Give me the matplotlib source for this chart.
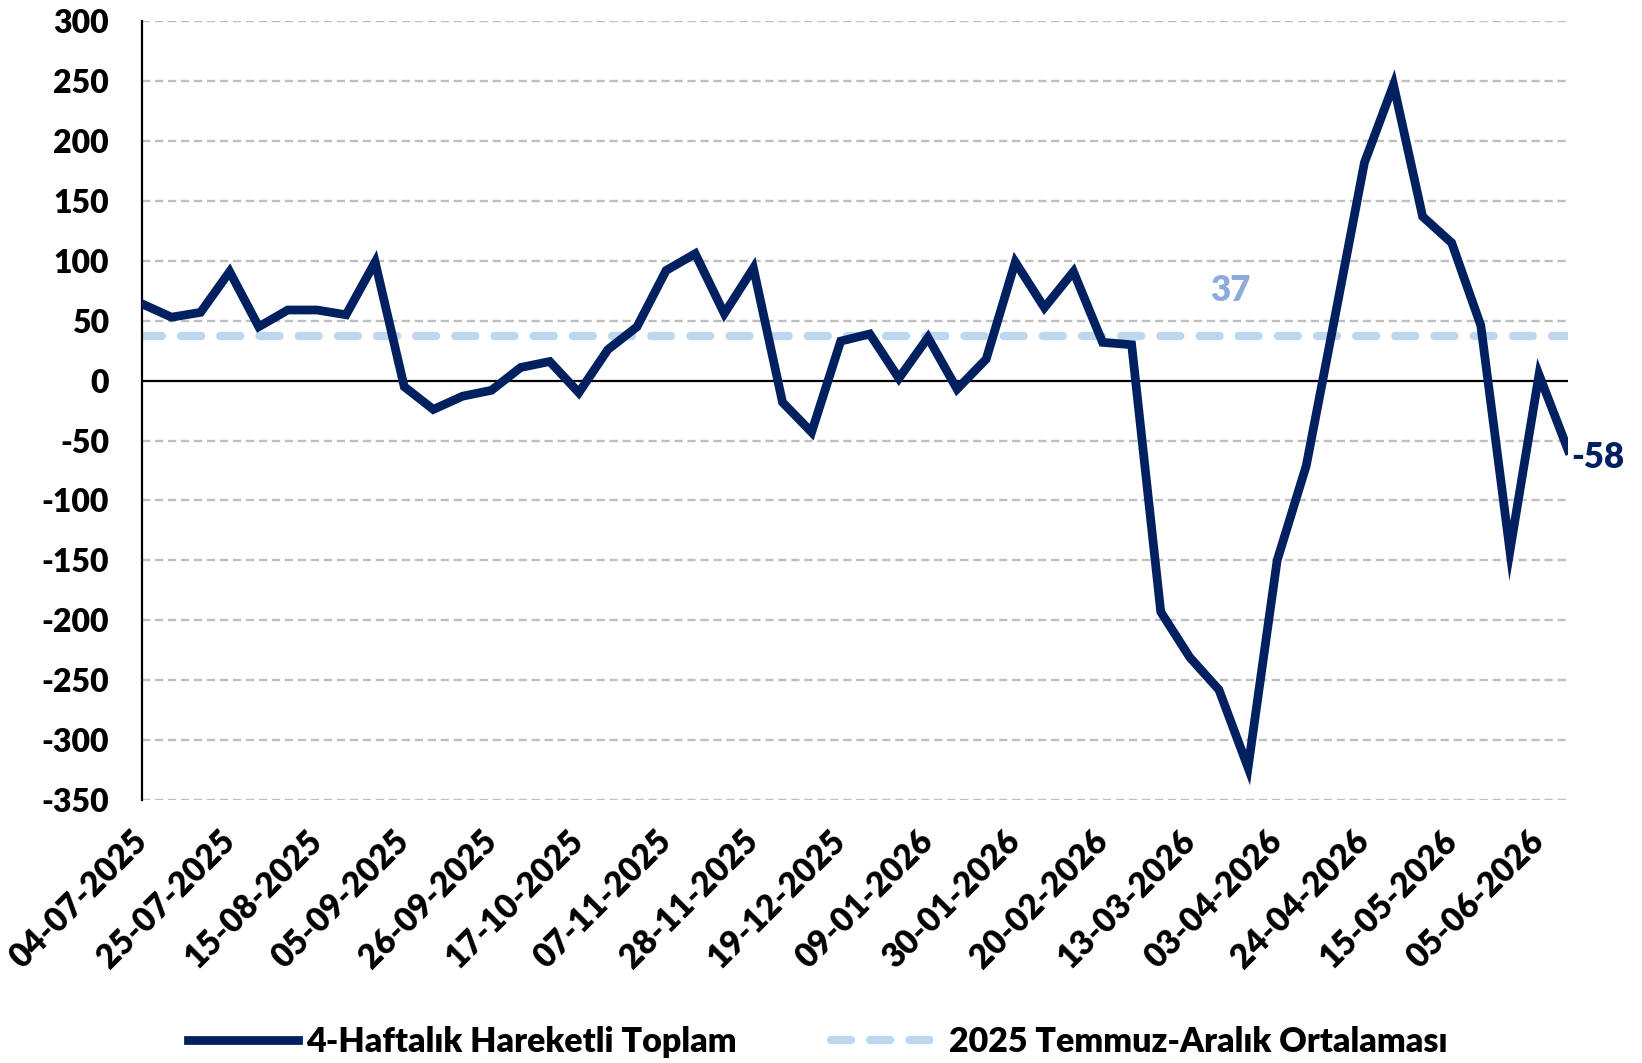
import numpy as np
import pandas as pd
import matplotlib
matplotlib.use("Agg")
import matplotlib.pyplot as plt

# weekly data, 4-week moving total
dates = pd.date_range("2025-07-04", periods=50, freq="7D")
values = [64, 53, 57, 91, 45, 59, 59, 55, 99, -5, -24, -13, -8, 11, 16, -10,
          26, 45, 92, 106, 56, 94, -18, -43, 33, 39, 2, 36, -7, 18,
          99, 61, 91, 32, 30, -193, -231, -258, -323, -150, -71, 55, 182, 247,
          137, 115, 46, -142, 5, -58]
avg_value = 37
tick_step = 3
yticks = list(range(-350, 301, 50))

series_label = "4-Haftalık Hareketli Toplam"
avg_label = "2025 Temmuz-Aralık Ortalaması"

navy = "#002060"
light = "#BDD7EE"
label_blue = "#8EA9DB"

plt.rcParams["font.family"] = ["Lato", "DejaVu Sans"]
plt.rcParams["font.weight"] = "heavy"
plt.rcParams["font.size"] = 23
plt.rcParams["axes.unicode_minus"] = False

fig = plt.figure(figsize=(16.42, 10.63), dpi=100)
ax = fig.add_axes([0.0867, 0.2474, 0.8683, 0.7326])

x = np.arange(len(values))
for yv in yticks:
    if yv != 0:
        ax.axhline(yv, color="#BFBFBF", lw=1.7, ls=(0, (3.5, 2)), zorder=0)
ax.axhline(0, color="black", lw=1.6, zorder=1)

ax.plot(x, [avg_value] * len(x), color=light, lw=6, ls=(0, (2.4, 2.3)),
        dash_capstyle="round", label=avg_label, zorder=2)
ax.plot(x, values, color=navy, lw=6.3, solid_joinstyle="miter",
        label=series_label, zorder=3)

ax.text(37.4, 75, str(avg_value), color=label_blue, ha="center", va="center",
        fontsize=25)
ax.annotate(str(values[-1]), (x[-1], values[-1]), xytext=(2, -5),
            textcoords="offset points", color=navy, ha="left", va="center",
            fontsize=25)

ax.set_xlim(0, len(values) - 1)
ax.set_ylim(-350, 300)
ax.set_yticks(yticks)
ax.set_xticks(x[::tick_step])
ax.set_xticklabels([d.strftime("%d-%m-%Y") for d in dates[::tick_step]],
                   rotation=45, ha="right", va="center", rotation_mode="anchor",
                   fontsize=24)
ax.tick_params(axis="both", length=0)
ax.tick_params(axis="y", pad=24)
ax.tick_params(axis="x", pad=26)

for s in ["top", "right", "bottom"]:
    ax.spines[s].set_visible(False)
ax.spines["left"].set_linewidth(1.6)

handles, labels = ax.get_legend_handles_labels()
fig.legend(handles[::-1], labels[::-1], loc="center", bbox_to_anchor=(0.498, 0.02),
           ncol=2, frameon=False, handlelength=3.23, columnspacing=2.76,
           handletextpad=0.25, borderpad=0, fontsize=24.5)

fig.savefig("out.png", dpi=100)
